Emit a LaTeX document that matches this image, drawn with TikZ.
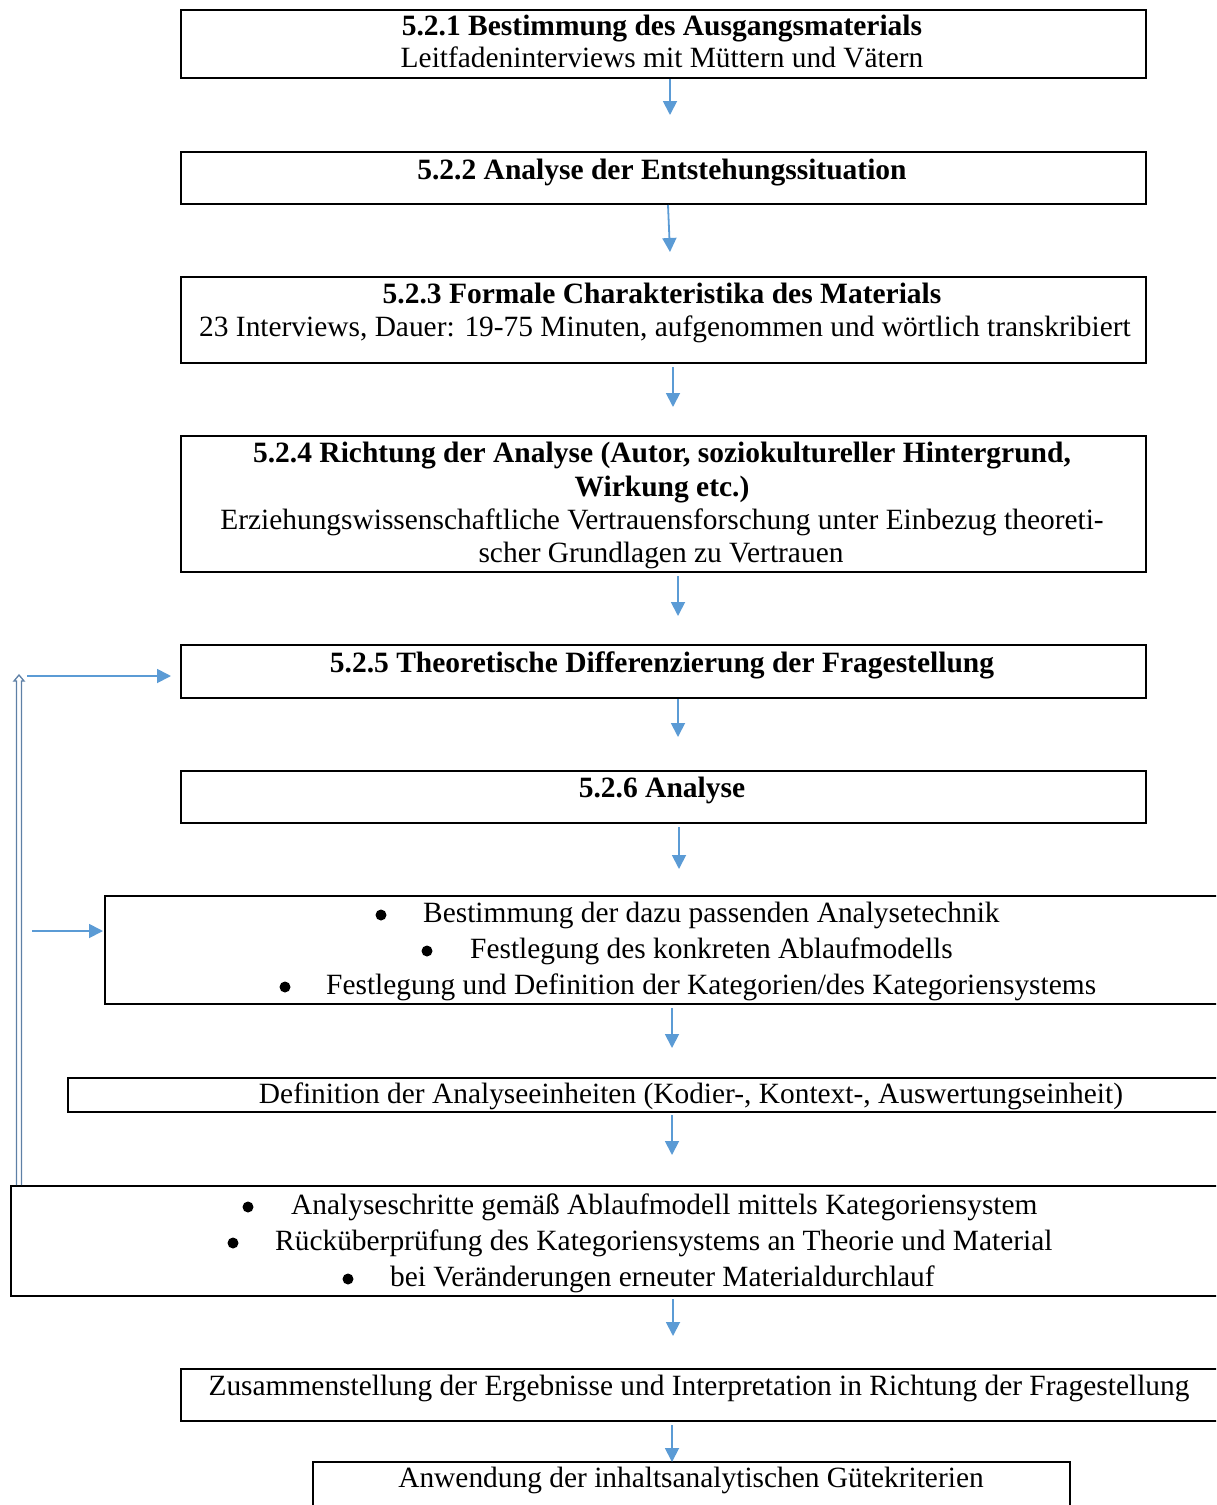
\documentclass[tikz,border=0pt]{standalone}
\usepackage{fontspec}
\setmainfont{Liberation Serif}
\usetikzlibrary{arrows.meta,calc}
\definecolor{arrblue}{HTML}{5B9BD5}
\definecolor{dblblue}{HTML}{5E80A6}
\begin{document}
\begin{tikzpicture}[x=1pt,y=-1pt,
  box/.style={draw=black,line width=2pt,rectangle,inner sep=0pt,anchor=north west},
  txt/.style={font=\fontsize{29.4}{33}\selectfont,inner sep=0pt,anchor=base},
  btxt/.style={inner sep=0pt,anchor=base,font=\fontsize{29.5}{33}\selectfont\bfseries},
  ltxt/.style={txt,anchor=base west},
  dot/.style={circle,fill=black,inner sep=0pt,minimum size=11pt},
  arr/.style={draw=arrblue,line width=1.8pt,-{Triangle[length=14pt,width=14pt]}},
  dbl/.style={draw=dblblue,line width=1.3pt,line join=miter}]
\clip (0,0) rectangle (1216,1505);
\useasboundingbox (0,0) rectangle (1216,1505);

% boxes
\node[box,minimum width=965,minimum height=68] (b1) at (180,9) {};
\node[box,minimum width=965,minimum height=52] (b2) at (180,151) {};
\node[box,minimum width=965,minimum height=86] (b3) at (180,276) {};
\node[box,minimum width=965,minimum height=136] (b4) at (180,435) {};
\node[box,minimum width=965,minimum height=53] (b5) at (180,644) {};
\node[box,minimum width=965,minimum height=52] (b6) at (180,770) {};
\node[box,minimum width=1170,minimum height=108] (b7) at (104,895) {};
\node[box,minimum width=1250,minimum height=34] (b8) at (67,1077) {};
\node[box,minimum width=1262,minimum height=110] (b9) at (10,1185) {};
\node[box,minimum width=1040,minimum height=52] (b10) at (180,1368) {};
\node[box,minimum width=757,minimum height=70] (b11) at (312,1461) {};

% texts
\node[btxt] (t1a) at (662,35) {5.2.1 Bestimmung des Ausgangsmaterials};
\node[txt] (t1b) at (662,67) {Leitfadeninterviews mit Müttern und Vätern};
\node[btxt] (t2) at (662,179) {5.2.2 Analyse der Entstehungssituation};
\node[btxt] (t3a) at (662,303) {5.2.3 Formale Charakteristika des Materials};
\node[txt] (t3b) at (665,336) {23 Interviews, Dauer: 19-75 Minuten, aufgenommen und wörtlich transkribiert};
\node[btxt] (t4a) at (662,462) {5.2.4 Richtung der Analyse (Autor, soziokultureller Hintergrund,};
\node[btxt] (t4b) at (662,496) {Wirkung etc.)};
\node[txt] (t4c) at (662,529) {Erziehungswissenschaftliche Vertrauensforschung unter Einbezug theoreti-};
\node[txt] (t4d) at (661,562) {scher Grundlagen zu Vertrauen};
\node[btxt] (t5) at (662,672) {5.2.5 Theoretische Differenzierung der Fragestellung};
\node[btxt] (t6) at (662,797) {5.2.6 Analyse};

\node[dot] (p7a) at (381,915) {};
\node[ltxt] (t7a) at (423,922) {Bestimmung der dazu passenden Analysetechnik};
\node[dot] (p7b) at (427,951) {};
\node[ltxt] (t7b) at (470,958) {Festlegung des konkreten Ablaufmodells};
\node[dot] (p7c) at (285,987) {};
\node[ltxt] (t7c) at (326,994) {Festlegung und Definition der Kategorien/des Kategoriensystems};

\node[txt] (t8) at (691,1103) {Definition der Analyseeinheiten (Kodier-, Kontext-, Auswertungseinheit)};

\node[dot] (p9a) at (248,1207) {};
\node[ltxt] (t9a) at (291,1214) {Analyseschritte gemäß Ablaufmodell mittels Kategoriensystem};
\node[dot] (p9b) at (233,1243) {};
\node[ltxt] (t9b) at (275,1250) {Rücküberprüfung des Kategoriensystems an Theorie und Material};
\node[dot] (p9c) at (348,1279) {};
\node[ltxt] (t9c) at (390,1286) {bei Veränderungen erneuter Materialdurchlauf};

\node[txt] (t10) at (699,1395) {Zusammenstellung der Ergebnisse und Interpretation in Richtung der Fragestellung};
\node[txt] (t11) at (691,1487) {Anwendung der inhaltsanalytischen Gütekriterien};

% arrows between boxes
\draw[arr] ([xshift=6.5pt]b1.south) -- ++(0,36);
\draw[arr] ([xshift=4.5pt]b2.south) -- ++(2,47);
\draw[arr] ([xshift=9.5pt,yshift=-3pt]b3.south) -- ++(0,40);
\draw[arr] ([xshift=14.5pt,yshift=-3pt]b4.south) -- ++(0,40);
\draw[arr] ([xshift=14.5pt]b5.south) -- ++(0,38);
\draw[arr] ([xshift=15.5pt,yshift=-3pt]b6.south) -- ++(0,42);
\draw[arr] ([xshift=-18pt,yshift=-3pt]b7.south) -- ++(0,40);
\draw[arr] ([xshift=-21pt,yshift=-2pt]b8.south) -- ++(0,40);
\draw[arr] ([xshift=31pt,yshift=-2pt]b9.south) -- ++(0,37);
\draw[arr] ([xshift=-29pt,yshift=-3pt]b10.south) -- ++(0,37);

% feedback loop
\coordinate (loopTop) at (19,675);
\draw[dbl] ($(b9.north west)+(6.5,0)$) -- ($(loopTop)+(-2.5,6)$) -- ($(loopTop)+(-5,6)$)
  -- (loopTop) -- ($(loopTop)+(5,6)$) -- ($(loopTop)+(2.5,6)$) -- ($(b9.north west)+(11.5,0)$);
\draw[arr] ($(loopTop)+(8,1)$) -- ([xshift=-9pt,yshift=-4.5pt]b5.west);
\coordinate (c7) at (32,931);
\draw[arr] (c7) -- ([xshift=-1pt]b7.west |- c7);
\end{tikzpicture}
\end{document}
